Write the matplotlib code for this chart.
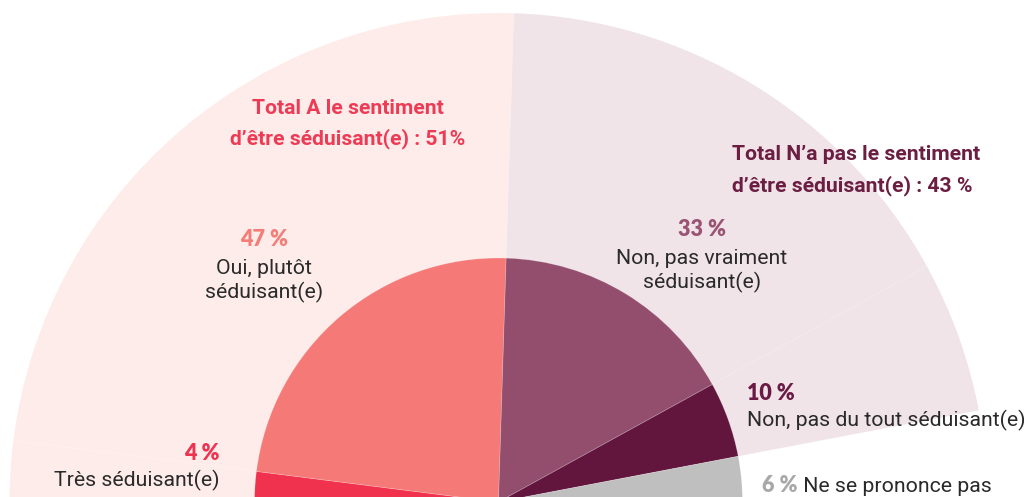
import matplotlib.pyplot as plt

# answers, left to right around the half circle
labels = ["Très séduisant(e)", "Oui, plutôt\nséduisant(e)", "Non, pas vraiment\nséduisant(e)",
          "Non, pas du tout séduisant(e)", "Ne se prononce pas"]
values = [4, 47, 33, 10, 6]
pct_labels = ["4 %", "47 %", "33 %", "10 %", "6 %"]

# totals shown in the outer ring
total_yes = 51
total_no = 43

inner_colors = ["#F0324F", "#F57A77", "#934E6E", "#62163D", "#BFBFBF"]
outer_colors = ["#FDECE9", "#FDECE9", "#F0E4E8", "#F0E4E8", "none"]
pct_colors = ["#EE3350", "#F47D78", "#9A5373", "#6A1B45", "#A8A8A8"]
text_color = "#2A2A2A"

W, H = 1026, 497
fig = plt.figure(figsize=(W / 100, H / 100), dpi=100)
ax = fig.add_axes([0, 0, 1, 1])

center = (498.5, H - 502)

# half pie: the last hidden wedge fills the lower half
outer, _ = ax.pie(values + [100], radius=489, center=center, startangle=180,
                  counterclock=False, colors=outer_colors + ["none"],
                  wedgeprops=dict(edgecolor=(1, 1, 1, 0.12), linewidth=0.5), frame=True)
inner, _ = ax.pie(values + [100], radius=244, center=center, startangle=180,
                  counterclock=False, colors=inner_colors + ["none"],
                  wedgeprops=dict(edgecolor=(1, 1, 1, 0.25), linewidth=0.5), frame=True)
outer[-1].set_visible(False)
outer[-2].set_visible(False)
inner[-1].set_visible(False)

ax.set_xlim(0, W)
ax.set_ylim(0, H)
ax.set_aspect("equal")
ax.axis("off")

body = dict(family="Roboto", size=15.3, color=text_color)
pct = dict(family="Lato", size=15.5, weight="heavy")
title = dict(family="Roboto", size=15.2, weight="bold")

def y(v):
    return H - v

# ring titles
ax.text(348, y(109), "Total A le sentiment", ha="center", va="center", color="#EE3B55", **title)
ax.text(348, y(139), f"d’être séduisant(e) : {total_yes}%", ha="center", va="center",
        color="#EE3B55", **title)
ax.text(732, y(155), "Total N’a pas le sentiment", ha="left", va="center", color="#6B1D42", **title)
ax.text(732, y(186), f"d’être séduisant(e) : {total_no} %", ha="left", va="center",
        color="#6B1D42", **title)

# slice labels
ax.text(220, y(453), pct_labels[0], ha="right", va="center", color=pct_colors[0], **pct)
ax.text(220, y(480), labels[0], ha="right", va="center", **body)

ax.text(264, y(240), pct_labels[1], ha="center", va="center", color=pct_colors[1], **pct)
ax.text(264, y(281), labels[1], ha="center", va="center", linespacing=1.25, **body)

ax.text(702, y(230), pct_labels[2], ha="center", va="center", color=pct_colors[2], **pct)
ax.text(702, y(271), labels[2], ha="center", va="center", linespacing=1.25, **body)

ax.text(747, y(394), pct_labels[3], ha="left", va="center", color=pct_colors[3], **pct)
ax.text(747, y(420), labels[3], ha="left", va="center", **body)

t = ax.text(762, y(486), pct_labels[4], ha="left", va="center", color=pct_colors[4], **pct)
ax.annotate(" " + labels[4], xy=(1, 0.5), xycoords=t, ha="left", va="center", **body)

fig.savefig("out.png", dpi=100)
